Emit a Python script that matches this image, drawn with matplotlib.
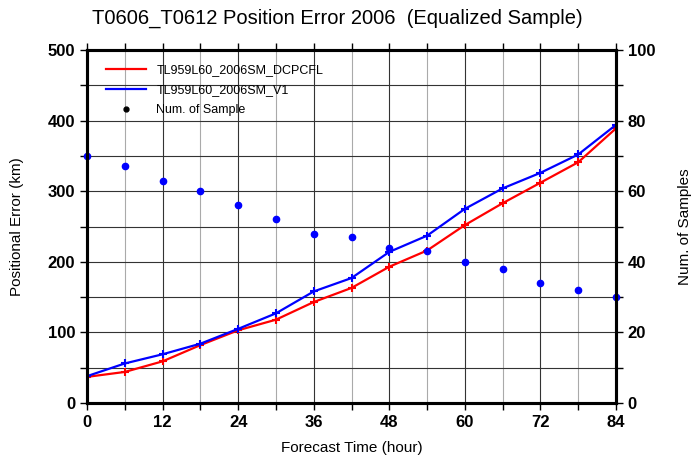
import matplotlib
matplotlib.use("Agg")
import matplotlib.pyplot as plt
from matplotlib.lines import Line2D
from matplotlib.ticker import MultipleLocator

plt.rcParams['font.family'] = ['Liberation Sans', 'DejaVu Sans']

hours = [0, 6, 12, 18, 24, 30, 36, 42, 48, 54, 60, 66, 72, 78, 84]
err_dcpcfl = [37, 44, 59, 82, 103, 118, 143, 163, 193, 216, 252, 283, 312, 341, 389]
err_v1 = [38, 56, 69, 84, 105, 127, 158, 177, 214, 237, 275, 304, 326, 352, 394]
num_sample = [70, 67, 63, 60, 56, 52, 48, 47, 44, 43, 40, 38, 34, 32, 30]

fig = plt.figure(figsize=(6.95, 4.58), dpi=100)
ax = fig.add_axes([87/695, 1-403/458, (616-87)/695, (403-50)/458])
ax2 = ax.twinx()

ax.plot(hours, err_dcpcfl, color='red', lw=1.6, marker='+', ms=6, mew=1.5, zorder=3)
ax.plot(hours, err_v1, color='blue', lw=1.6, marker='+', ms=6, mew=1.5, zorder=3)
ax2.plot(hours, num_sample, 'o', color='blue', ms=4.5, clip_on=False)

ax.set_xlim(0, 84)
ax.set_ylim(0, 500)
ax2.set_ylim(0, 100)
ax.xaxis.set_major_locator(MultipleLocator(12))
ax.xaxis.set_minor_locator(MultipleLocator(6))
ax.yaxis.set_major_locator(MultipleLocator(100))
ax.yaxis.set_minor_locator(MultipleLocator(50))
ax2.yaxis.set_major_locator(MultipleLocator(20))
ax2.yaxis.set_minor_locator(MultipleLocator(10))

ax.grid(which='major', color='#333333', lw=0.8)
ax.grid(which='minor', axis='x', color='#aaaaaa', lw=0.8)
ax.grid(which='minor', axis='y', color='#333333', lw=0.8)
ax.set_axisbelow(True)

for a in (ax, ax2):
    for s in a.spines.values():
        s.set_linewidth(2.2)
    a.tick_params(which='both', direction='out', width=1, length=5)
    a.tick_params(labelsize=12)
ax.tick_params(which='both', top=True)
for lbl in ax.get_xticklabels() + ax.get_yticklabels() + ax2.get_yticklabels():
    lbl.set_fontweight('bold')

ax.set_xlabel('Forecast Time (hour)', fontsize=11, labelpad=8)
ax.set_ylabel('Positional Error (km)', fontsize=11, labelpad=17)
ax2.set_ylabel('Num. of Samples', fontsize=11, labelpad=16)
fig.suptitle('T0606_T0612 Position Error 2006  (Equalized Sample)', fontsize=14.5,
             x=0.485, y=0.98)

handles = [Line2D([], [], color='red', lw=1.6),
           Line2D([], [], color='blue', lw=1.6),
           Line2D([], [], color='black', ls='none', marker='o', ms=3.5)]
labels = ['TL959L60_2006SM_DCPCFL', 'TL959L60_2006SM_V1', 'Num. of Sample']
ax.legend(handles, labels, loc='upper left', frameon=False, fontsize=9,
          handlelength=3.2, handletextpad=0.8, labelspacing=0.65,
          bbox_to_anchor=(0.02, 0.985), borderaxespad=0.3)

fig.savefig('out.png', dpi=100)
